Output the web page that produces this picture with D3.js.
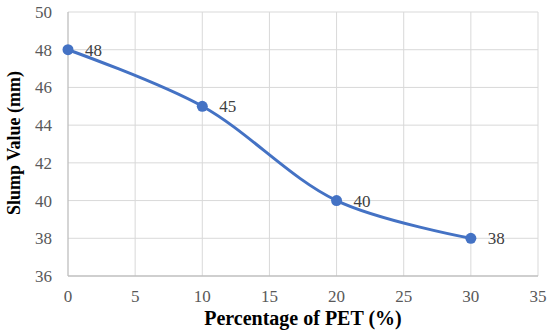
<!DOCTYPE html>
<html>
<head>
<meta charset="utf-8">
<script src="https://cdn.jsdelivr.net/npm/d3@7"></script>
<style>
  body { margin: 0; background: #fff; }
</style>
</head>
<body>
<div id="chart"></div>
<script>
const petPct = [0, 10, 20, 30];
const slump = [48, 45, 40, 38];
const xTicks = [0, 5, 10, 15, 20, 25, 30, 35];
const yTicks = [36, 38, 40, 42, 44, 46, 48, 50];

const width = 550, height = 335;
const margin = { top: 12, right: 12, bottom: 59, left: 68 };
const serif = "'Liberation Serif', 'DejaVu Serif', serif";

const svg = d3.select('#chart').append('svg')
    .attr('width', width)
    .attr('height', height)
    .attr('font-family', serif);

const x = d3.scaleLinear().domain([0, 35]).range([margin.left, width - margin.right]);
const y = d3.scaleLinear().domain([36, 50]).range([height - margin.bottom, margin.top]);

// grid
svg.append('g')
    .attr('stroke', '#d9d9d9')
    .attr('stroke-width', 1)
  .selectAll('line.v')
  .data(xTicks.slice(1))
  .join('line')
    .attr('x1', d => x(d)).attr('x2', d => x(d))
    .attr('y1', y(36)).attr('y2', y(50));

svg.append('g')
    .attr('stroke', '#d9d9d9')
    .attr('stroke-width', 1)
  .selectAll('line.h')
  .data(yTicks.slice(1))
  .join('line')
    .attr('x1', x(0)).attr('x2', x(35))
    .attr('y1', d => y(d)).attr('y2', d => y(d));

// axes lines
svg.append('line')
    .attr('x1', x(0)).attr('x2', x(35))
    .attr('y1', y(36)).attr('y2', y(36))
    .attr('stroke', '#bfbfbf').attr('stroke-width', 1.3);
svg.append('line')
    .attr('x1', x(0)).attr('x2', x(0))
    .attr('y1', y(36)).attr('y2', y(50))
    .attr('stroke', '#bfbfbf').attr('stroke-width', 1.3);

// tick labels
svg.append('g')
    .attr('font-size', 17)
    .attr('fill', '#595959')
    .attr('text-anchor', 'middle')
  .selectAll('text')
  .data(xTicks)
  .join('text')
    .attr('x', d => x(d))
    .attr('y', y(36) + 26)
    .text(d => d);

svg.append('g')
    .attr('font-size', 17)
    .attr('fill', '#595959')
    .attr('text-anchor', 'end')
  .selectAll('text')
  .data(yTicks)
  .join('text')
    .attr('x', x(0) - 16)
    .attr('y', d => y(d))
    .attr('dy', '0.35em')
    .text(d => d);

// axis titles
svg.append('text')
    .attr('x', (x(0) + x(35)) / 2)
    .attr('y', 325)
    .attr('text-anchor', 'middle')
    .attr('font-size', 20)
    .attr('font-weight', 'bold')
    .text('Percentage of PET (%)');

svg.append('text')
    .attr('transform', `translate(20,${(y(36) + y(50)) / 2 - 1}) rotate(-90)`)
    .attr('text-anchor', 'middle')
    .attr('font-size', 18)
    .attr('font-weight', 'bold')
    .text('Slump Value (mm)');

// series
const pts = petPct.map((p, i) => [p, slump[i]]);
const line = d3.line()
    .x(d => x(d[0]))
    .y(d => y(d[1]))
    .curve(d3.curveCatmullRom.alpha(0.5));

svg.append('path')
    .datum(pts)
    .attr('d', line)
    .attr('fill', 'none')
    .attr('stroke', '#4472c4')
    .attr('stroke-width', 3);

svg.append('g')
    .attr('fill', '#4472c4')
  .selectAll('circle')
  .data(pts)
  .join('circle')
    .attr('cx', d => x(d[0]))
    .attr('cy', d => y(d[1]))
    .attr('r', 5.5);

svg.append('g')
    .attr('font-size', 17)
    .attr('fill', '#404040')
  .selectAll('text')
  .data(pts)
  .join('text')
    .attr('x', d => x(d[0]) + 17)
    .attr('y', d => y(d[1]))
    .attr('dy', '0.35em')
    .text(d => d[1]);
</script>
</body>
</html>
